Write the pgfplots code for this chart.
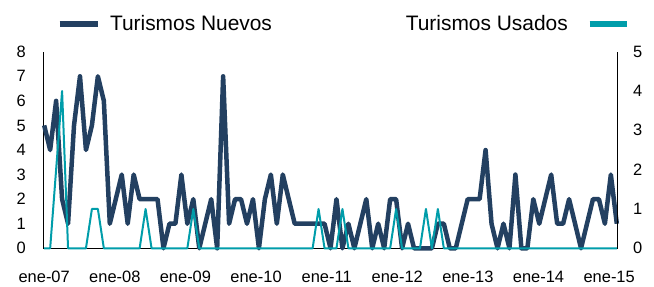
\documentclass[border=0pt]{standalone}
\usepackage{fontspec}
\setmainfont{Liberation Sans}
\usepackage{pgfplots}
\usepackage{pgfplotstable}
\pgfplotsset{compat=1.18}
\definecolor{navyc}{RGB}{35,64,97}
\definecolor{tealc}{RGB}{0,157,170}

\pgfplotstableread{
x y
0 5
1 4
2 6
3 2
4 1
5 5
6 7
7 4
8 5
9 7
10 6
11 1
12 2
13 3
14 1
15 3
16 2
17 2
18 2
19 2
20 0
21 1
22 1
23 3
24 1
25 2
26 0
27 1
28 2
29 0
30 7
31 1
32 2
33 2
34 1
35 2
36 0
37 2
38 3
39 1
40 3
41 2
42 1
43 1
44 1
45 1
46 1
47 1
48 0
49 2
50 0
51 1
52 0
53 1
54 2
55 0
56 1
57 0
58 2
59 2
60 0
61 1
62 0
63 0
64 0
65 0
66 1
67 1
68 0
69 0
70 1
71 2
72 2
73 2
74 4
75 1
76 0
77 1
78 0
79 3
80 0
81 0
82 2
83 1
84 2
85 3
86 1
87 1
88 2
89 1
90 0
91 1
92 2
93 2
94 1
95 3
96 1
}\nuevos

\pgfplotstableread{
x y
0 0
1 0
2 2
3 4
4 0
5 0
6 0
7 0
8 1
9 1
10 0
16 0
17 1
18 0
24 0
25 1
26 0
45 0
46 1
47 0
49 0
50 1
51 0
58 0
59 1
60 0
63 0
64 1
65 0
66 1
67 0
96 0
}\usados

\begin{document}
\begin{tikzpicture}
\begin{axis}[
  scale only axis, width=574.4bp, height=196.6bp,
  xmin=-0.15, xmax=96.15, ymin=0, ymax=8,
  axis x line*=bottom, axis y line*=left,
  axis line style={black, line width=1.5bp},
  xtick={0,11.84,23.68,35.52,47.36,59.2,71.04,82.88,94.72},
  xticklabels={ene-07,ene-08,ene-09,ene-10,ene-11,ene-12,ene-13,ene-14,ene-15},
  ytick={0,1,...,8},
  major tick length=0pt,
  tick label style={font=\fontsize{16.5}{18}\selectfont, inner sep=0pt},
  yticklabel style={anchor=east, xshift=-17.3bp},
  xticklabel style={anchor=north, yshift=-22.4bp},
  /pgf/number format/assume math mode=true,
  clip=false,
  legend style={at={(0.02333,1.1409)}, anchor=west, draw=none, fill=none,
    inner sep=0pt, outer sep=0pt, column sep=9bp,
    font=\fontsize{21}{24}\selectfont, nodes={inner sep=0pt}},
  legend image code/.code={\draw[#1, line width=6bp, line cap=butt] (0bp,0bp) -- (38.3bp,0bp);},
]
\addplot[navyc, line width=4.5bp, line join=round] table {\nuevos};
\addlegendentry{Turismos Nuevos}
\end{axis}
\begin{axis}[
  scale only axis, width=574.4bp, height=196.6bp,
  xmin=-0.15, xmax=96.15, ymin=0, ymax=5,
  axis x line=none, axis y line*=right,
  axis line style={black, line width=1.5bp},
  ytick={0,1,...,5},
  major tick length=0pt,
  tick label style={font=\fontsize{16.5}{18}\selectfont, inner sep=0pt},
  yticklabel style={anchor=west, xshift=15.3bp},
  /pgf/number format/assume math mode=true,
  clip=false,
  legend plot pos=right,
  legend style={at={(1.02141,1.1409)}, anchor=east, draw=none, fill=none,
    inner sep=0pt, outer sep=0pt, column sep=19bp,
    font=\fontsize{21}{24}\selectfont, nodes={inner sep=0pt}},
  legend image code/.code={\draw[#1, line width=5.5bp, line cap=butt] (0bp,0bp) -- (37.7bp,0bp);},
]
\addplot[tealc, line width=2bp, line join=round] table {\usados};
\addlegendentry{Turismos Usados}
\end{axis}
\pgfresetboundingbox
\path (-43.3bp,-38.7bp) rectangle (610.7bp,248.3bp);
\end{tikzpicture}
\end{document}
